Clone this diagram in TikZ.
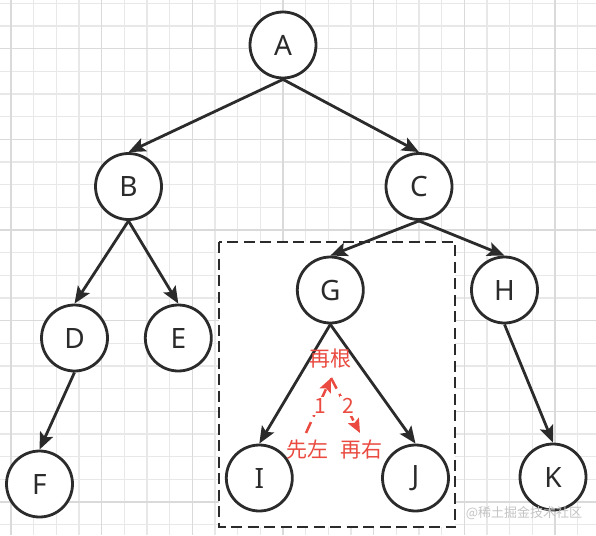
\documentclass[tikz,border=0pt]{standalone}
\usepackage{fontspec}
\setmainfont{Noto Sans}
\newfontfamily\cjk{Noto Sans CJK SC}
\usetikzlibrary{arrows.meta}
\definecolor{annored}{HTML}{EA4A3F}
\definecolor{ink}{HTML}{2B2B2B}
\definecolor{gridminor}{HTML}{E8E8E8}
\definecolor{gridmajor}{HTML}{DADADA}
\definecolor{wmark}{HTML}{C4C4C4}
\begin{document}
\begin{tikzpicture}[x=1pt,y=-1pt,
  tnode/.style={circle, draw=ink, fill=white, line width=2.8pt, minimum size=66pt,
    inner sep=0pt, font=\fontsize{28}{30}\selectfont, text=ink},
  edge/.style={draw=ink, line width=2.8pt, -{Stealth[length=17pt,width=14pt,inset=3.5pt]}},
  frame/.style={draw=ink, fill=white, line width=2.8pt, dash pattern=on 11pt off 5.5pt},
  redarrow/.style={draw=annored, line width=2.5pt, dash pattern=on 12pt off 6pt,
    -{Stealth[length=14pt,width=12pt,inset=2.5pt]}},
  redtext/.style={text=annored, font=\cjk\fontsize{21}{23}\selectfont, inner sep=1pt},
  numlabel/.style={text=annored, font=\cjk\fontsize{21}{23}\selectfont, fill=white, inner sep=2pt},
  gminor/.style={draw=gridminor, line width=1.3pt},
  gmajor/.style={draw=gridmajor, line width=1.6pt}
]
\useasboundingbox (0,0) rectangle (596,535);
\fill[white] (0,0) rectangle (596,535);
% grid
\foreach \k in {0,...,26} {
  \pgfmathsetmacro\xx{11+22.667*\k}
  \draw[gminor] (\xx,0) -- (\xx,535);
}
\foreach \k in {0,...,23} {
  \pgfmathsetmacro\yy{3.3+22.667*\k}
  \draw[gminor] (0,\yy) -- (596,\yy);
}
\foreach \k in {0,4,...,24} {
  \pgfmathsetmacro\xx{11+22.667*\k}
  \draw[gmajor] (\xx,0) -- (\xx,535);
}
\foreach \k in {2,6,...,22} {
  \pgfmathsetmacro\yy{3.3+22.667*\k}
  \draw[gmajor] (0,\yy) -- (596,\yy);
}
% dashed frame
\draw[frame] (219,242) rectangle (455,527);
% nodes
\node[tnode] (A) at (283,45) {A};
\node[tnode] (B) at (128.5,186.5) {B};
\node[tnode] (C) at (419,186.5) {C};
\node[tnode] (D) at (74.5,338) {D};
\node[tnode] (E) at (178.3,338) {E};
\node[tnode] (F) at (39.5,484) {F};
\node[tnode] (G) at (330.3,290) {G};
\node[tnode] (H) at (504.5,290) {H};
\node[tnode] (I) at (259.3,478) {I};
\node[tnode] (J) at (415.5,478) {J};
\node[tnode] (K) at (553,477) {K};
% edges
\draw[edge] (A.south) -- (B.north);
\draw[edge] (A.south) -- (C.north);
\draw[edge] (B.south) -- (D.north);
\draw[edge] (B.south) -- (E.north);
\draw[edge] (C.south) -- (G.north);
\draw[edge] (C.south) -- (H.north);
\draw[edge] (D.south) -- (F.north);
\draw[edge] (G.south) -- (I.north);
\draw[edge] (G.south) -- (J.north);
\draw[edge] (H.south) -- (K.north);
% red annotations
\coordinate (r1s) at (306,433);
\coordinate (r1e) at (331,378);
\coordinate (r2e) at (360,433);
\draw[redarrow] (r1s) -- (r1e);
\draw[redarrow] (r1e) -- (r2e);
\node[numlabel] (n1) at (320,406) {1};
\node[numlabel] (n2) at (348,406) {2};
\node[redtext] (root) at (330,359) {再根};
\node[redtext] (left) at (307,450) {先左};
\node[redtext] (right) at (361,450) {再右};
% watermark
\node[text=wmark, font=\cjk\fontsize{13}{15}\selectfont, inner sep=0pt] (wm) at (524,513) {@稀土掘金技术社区};
\end{tikzpicture}
\end{document}
